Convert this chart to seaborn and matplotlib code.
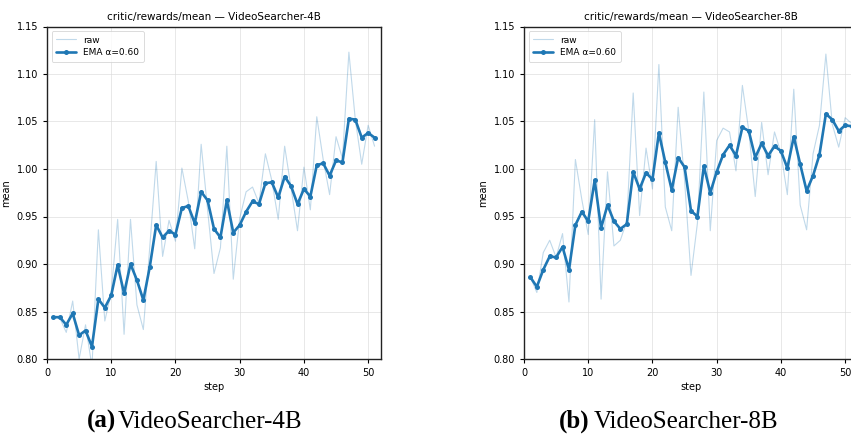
import matplotlib
matplotlib.use("Agg")
import matplotlib.pyplot as plt
import seaborn as sns
import pandas as pd

steps = list(range(1, 52))

# VideoSearcher-4B
raw_4b = [0.844, 0.843, 0.828, 0.861, 0.800, 0.836, 0.792, 0.936, 0.840, 0.870,
          0.947, 0.826, 0.947, 0.857, 0.831, 0.918, 1.008, 0.908, 0.946, 0.924,
          1.001, 0.966, 0.916, 1.026, 0.957, 0.890, 0.917, 1.024, 0.884, 0.948,
          0.976, 0.981, 0.964, 1.016, 0.988, 0.947, 1.024, 0.980, 0.935, 1.002,
          0.957, 1.055, 1.010, 0.973, 1.034, 1.011, 1.123, 1.052, 1.005, 1.046,
          1.024]
ema_4b = [0.844, 0.844, 0.836, 0.848, 0.825, 0.830, 0.813, 0.863, 0.854, 0.867,
          0.899, 0.869, 0.900, 0.883, 0.862, 0.897, 0.941, 0.928, 0.935, 0.931,
          0.959, 0.961, 0.943, 0.976, 0.967, 0.937, 0.928, 0.967, 0.933, 0.941,
          0.955, 0.966, 0.963, 0.985, 0.986, 0.970, 0.992, 0.982, 0.963, 0.979,
          0.971, 1.004, 1.006, 0.993, 1.009, 1.007, 1.053, 1.052, 1.033, 1.038,
          1.033]

# VideoSearcher-8B
raw_8b = [0.886, 0.870, 0.912, 0.925, 0.907, 0.932, 0.860, 1.010, 0.968, 0.931,
          1.052, 0.863, 0.997, 0.919, 0.925, 0.945, 1.080, 0.951, 1.022, 0.979,
          1.110, 0.960, 0.935, 1.065, 0.988, 0.888, 0.943, 1.081, 0.935, 1.030,
          1.043, 1.039, 0.998, 1.088, 1.040, 0.971, 1.049, 0.994, 1.039, 1.017,
          0.973, 1.084, 0.962, 0.936, 1.016, 1.046, 1.121, 1.047, 1.023, 1.054,
          1.048]
ema_8b = [0.886, 0.876, 0.894, 0.908, 0.907, 0.918, 0.894, 0.941, 0.955, 0.945,
          0.988, 0.938, 0.962, 0.945, 0.937, 0.942, 0.997, 0.979, 0.996, 0.989,
          1.038, 1.007, 0.978, 1.012, 1.002, 0.956, 0.950, 1.003, 0.975, 0.997,
          1.015, 1.025, 1.014, 1.044, 1.040, 1.012, 1.027, 1.014, 1.024, 1.019,
          1.001, 1.034, 1.005, 0.977, 0.993, 1.015, 1.058, 1.052, 1.040, 1.046,
          1.045]

models = ["VideoSearcher-4B", "VideoSearcher-8B"]
captions = ["(a)", "(b)"]

sns.set_style("ticks")
plt.rcParams['font.family'] = ['DejaVu Sans']
plt.rcParams['text.color'] = 'black'
plt.rcParams['axes.labelcolor'] = 'black'
plt.rcParams['xtick.color'] = 'black'
plt.rcParams['ytick.color'] = 'black'

fig = plt.figure(figsize=(8.51, 4.34), dpi=100)
blue = "#1f77b4"

series = [(raw_4b, ema_4b), (raw_8b, ema_8b)]
lefts = [47 / 851, 524 / 851]
cap_x = [(87, 118), (559, 594)]  # pixel x of label / model name
for i, (raw, ema) in enumerate(series):
    ax = fig.add_axes([lefts[i], 75 / 434, 334 / 851, 332.5 / 434])
    df = pd.DataFrame({"step": steps, "raw": raw, "ema": ema})
    sns.lineplot(data=df, x="step", y="raw", ax=ax, color=blue, alpha=0.28,
                 linewidth=0.8, label="raw")
    sns.lineplot(data=df, x="step", y="ema", ax=ax, color=blue, linewidth=1.9,
                 marker="o", markersize=3.6, markeredgewidth=0,
                 label="EMA \u03b1=0.60")
    ax.set_xlim(0, 52)
    ax.set_ylim(0.80, 1.15)
    ax.set_xticks([0, 10, 20, 30, 40, 50])
    ax.set_yticks([0.80, 0.85, 0.90, 0.95, 1.00, 1.05, 1.10, 1.15])
    ax.grid(True, color="#d9d9d9", linewidth=0.6, alpha=0.7)
    ax.tick_params(labelsize=7, length=3, width=0.8)
    ax.set_xlabel("step", fontsize=7, labelpad=3)
    ax.set_ylabel("mean", fontsize=7, labelpad=4)
    ax.set_title("critic/rewards/mean \u2014 " + models[i], fontsize=7.5, pad=5)
    for s in ax.spines.values():
        s.set_color("#222222")
        s.set_linewidth(1.0)
    leg = ax.legend(loc="upper left", fontsize=6.5, frameon=True,
                    handlelength=2.2, borderpad=0.5, labelspacing=0.4)
    leg.get_frame().set_linewidth(0.6)

    fig.text(cap_x[i][0] / 851, 6 / 434, captions[i], ha="left", va="baseline",
             fontsize=18, fontweight="bold", family="Liberation Serif")
    fig.text(cap_x[i][1] / 851, 6 / 434, models[i], ha="left", va="baseline",
             fontsize=18, family="Liberation Serif")

fig.savefig("out.png", dpi=100)
